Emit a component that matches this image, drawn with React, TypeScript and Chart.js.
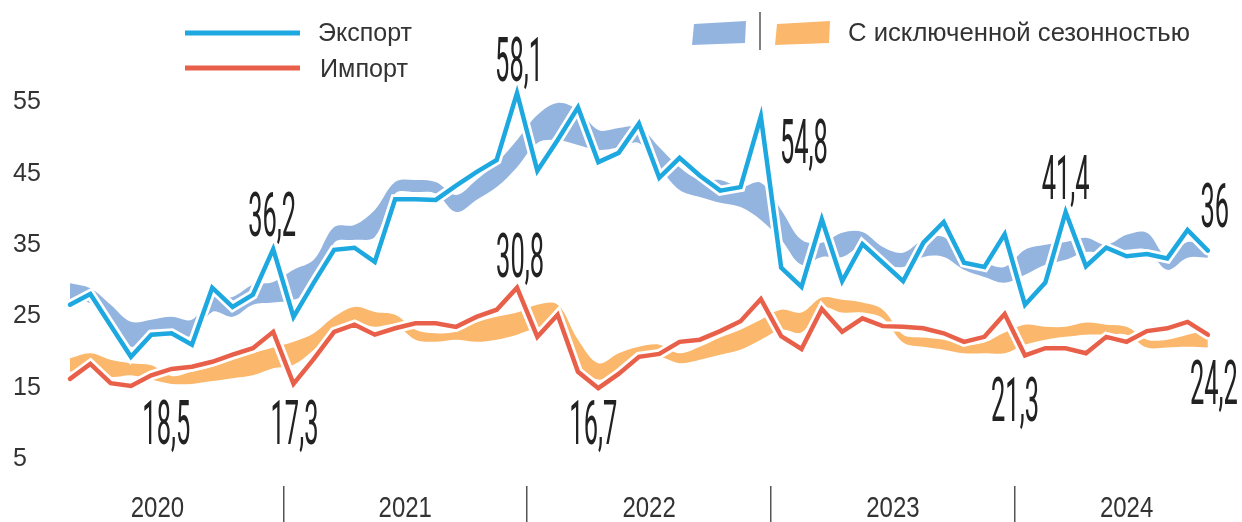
import React, { useEffect, useRef } from 'react';
import { Chart, registerables } from 'chart.js';

Chart.register(...registerables);

// Monthly values, Feb 2020 … Oct 2024 (index 0 = Feb 2020)
const exportValues = [28.4, 29.9, 25.5, 21.1, 24.2, 24.4, 22.8, 30.8, 28.1, 29.8, 36.2, 26.7, 31.5, 36.1, 36.4, 34.4, 43.2, 43.2, 43.1, 45.1, 47.0, 48.7, 58.1, 47.2, 51.5, 56.1, 48.4, 49.7, 53.8, 46.2, 49.0, 46.5, 44.4, 44.9, 54.8, 33.6, 30.9, 40.4, 31.7, 36.9, 34.3, 31.7, 37.1, 40.0, 34.3, 33.7, 38.3, 28.4, 31.5, 41.4, 33.8, 36.4, 35.2, 35.5, 34.9, 38.9, 36.0];
const importValues = [18.0, 20.1, 17.4, 17.0, 18.5, 19.4, 19.7, 20.4, 21.4, 22.3, 24.6, 17.3, 20.8, 24.6, 25.6, 24.2, 25.1, 25.8, 25.8, 25.3, 26.7, 27.7, 30.8, 23.9, 27.0, 19.0, 16.7, 18.7, 21.1, 21.5, 23.2, 23.5, 24.7, 26.1, 29.2, 24.0, 22.2, 27.8, 24.6, 26.5, 25.4, 25.3, 25.1, 24.4, 23.2, 23.9, 27.1, 21.3, 22.3, 22.3, 21.6, 23.9, 23.2, 24.7, 25.1, 26.0, 24.2];
// Seasonally adjusted ribbons (upper / lower edge)
const exportSAHigh = [31.4, 30.7, 28.4, 26.0, 26.3, 26.7, 26.3, 29.4, 29.5, 31.2, 31.6, 33.3, 34.7, 39.3, 39.6, 41.7, 45.6, 45.9, 45.6, 43.8, 45.9, 48.3, 51.5, 55.0, 56.7, 55.7, 52.9, 53.2, 53.3, 50.5, 47.7, 45.9, 45.9, 44.9, 45.5, 41.7, 37.5, 37.1, 38.5, 38.6, 36.5, 35.7, 37.5, 37.9, 35.1, 34.3, 33.7, 36.1, 36.8, 37.2, 37.8, 36.8, 38.2, 38.5, 35.1, 37.2, 36.5];
const exportSALow = [29.1, 28.6, 25.6, 22.5, 24.2, 24.6, 24.0, 27.4, 26.7, 28.4, 28.7, 29.1, 30.5, 37.1, 37.5, 37.9, 44.0, 44.2, 44.0, 41.4, 43.1, 44.9, 47.7, 51.1, 51.5, 50.8, 50.1, 50.5, 51.1, 47.7, 44.5, 43.5, 42.7, 42.1, 40.3, 37.5, 34.0, 35.1, 35.1, 36.5, 34.3, 33.7, 35.1, 35.1, 33.3, 32.3, 31.5, 32.6, 34.0, 34.7, 35.8, 35.7, 36.1, 36.1, 33.3, 35.0, 35.0];
const importSAHigh = [20.9, 21.6, 20.7, 20.2, 19.9, 18.4, 19.0, 19.7, 20.7, 21.6, 22.4, 23.2, 24.4, 26.7, 28.1, 27.4, 27.0, 24.9, 24.4, 24.6, 25.9, 26.7, 27.3, 28.4, 28.4, 23.5, 20.2, 21.6, 22.5, 22.8, 21.6, 22.5, 23.8, 24.9, 26.3, 27.7, 27.3, 29.4, 29.1, 28.7, 27.7, 24.2, 23.8, 23.5, 22.8, 23.1, 24.5, 25.6, 25.3, 25.3, 25.9, 25.6, 25.3, 23.5, 23.5, 24.2, 24.9];
const importSALow = [19.0, 19.5, 18.3, 18.5, 17.9, 17.3, 17.3, 17.7, 18.1, 18.5, 19.5, 20.0, 22.1, 24.9, 25.9, 25.3, 25.6, 23.5, 23.2, 23.5, 23.2, 23.5, 24.2, 25.2, 25.6, 20.0, 17.9, 19.3, 20.7, 21.1, 20.2, 20.7, 21.4, 22.1, 23.5, 24.9, 24.5, 28.0, 27.3, 27.3, 26.5, 23.1, 22.5, 22.1, 21.6, 21.6, 21.6, 22.8, 23.5, 23.9, 24.2, 24.2, 24.2, 22.4, 22.4, 22.5, 22.4];

const yTickValues = [5, 15, 25, 35, 45, 55];
const yearLabels = ['2020', '2021', '2022', '2023', '2024'];
const yearCenters = [4.3, 16.5, 28.5, 40.5, 52.0];
const yearBoundaries = [10.5, 22.5, 34.5, 46.5];

const callouts = [
  { series: 'export', index: 22, text: '58,1', dx: 2, dTop: -56 },
  { series: 'export', index: 10, text: '36,2', dx: -1, dTop: -57 },
  { series: 'export', index: 34, text: '54,8', dx: 43, dTop: 2 },
  { series: 'export', index: 49, text: '41,4', dx: 0, dTop: -57 },
  { series: 'export', index: 56, text: '36', dx: 7, dTop: -68 },
  { series: 'import', index: 22, text: '30,8', dx: 3, dTop: -55 },
  { series: 'import', index: 4, text: '18,5', dx: 15, dTop: 25 },
  { series: 'import', index: 11, text: '17,3', dx: 1, dTop: 16 },
  { series: 'import', index: 26, text: '16,7', dx: -5, dTop: 12 },
  { series: 'import', index: 47, text: '21,3', dx: -10, dTop: 22 },
  { series: 'import', index: 56, text: '24,2', dx: 6, dTop: 25 },
];

const EXPORT_COLOR = '#1ea8e0';
const IMPORT_COLOR = '#e9604a';
const EXPORT_SA_COLOR = '#94b4e0';
const IMPORT_SA_COLOR = '#fbb86d';
const TEXT_COLOR = '#222222';

const pts = (arr: number[]) => arr.map((v, i) => ({ x: i, y: v }));

function scaledText(ctx: CanvasRenderingContext2D, text: string, x: number, baseline: number, font: string, sx: number, align: CanvasTextAlign, color: string) {
  ctx.save();
  ctx.font = font;
  ctx.translate(x, baseline);
  ctx.scale(sx, 1);
  ctx.textAlign = align;
  ctx.textBaseline = 'alphabetic';
  ctx.fillStyle = color;
  ctx.fillText(text, 0, 0);
  ctx.restore();
}

function fittedText(ctx: CanvasRenderingContext2D, text: string, x: number, baseline: number, font: string, width: number, color: string) {
  ctx.save();
  ctx.font = font;
  const w = ctx.measureText(text).width;
  ctx.restore();
  scaledText(ctx, text, x, baseline, font, width / w, 'left', color);
}

const overlayPlugin = {
  id: 'overlay',
  afterDraw(chart: any) {
    const { ctx, scales } = chart;
    const xs = scales.x;
    const ys = scales.y;
    // Year labels
    yearLabels.forEach((lab, i) => {
      const px = xs.getPixelForValue(yearCenters[i]);
      scaledText(ctx, lab, px, 517, '30px "Liberation Sans", Arial, sans-serif', 0.8, 'center', '#333');
    });
    // Callouts
    const DIGIT_FONT = '400 62px Roboto, "Liberation Sans", sans-serif';
    callouts.forEach((c) => {
      const arr = c.series === 'export' ? exportValues : importValues;
      const px = xs.getPixelForValue(c.index);
      const py = ys.getPixelForValue(arr[c.index]);
      const top = py + c.dTop;
      scaledText(ctx, c.text, px + c.dx, top + 44, DIGIT_FONT, 0.41, 'center', TEXT_COLOR);
    });
    // Legend
    ctx.save();
    ctx.lineCap = 'butt';
    ctx.lineWidth = 5;
    ctx.strokeStyle = EXPORT_COLOR;
    ctx.beginPath(); ctx.moveTo(185, 33); ctx.lineTo(300, 33); ctx.stroke();
    ctx.strokeStyle = IMPORT_COLOR;
    ctx.beginPath(); ctx.moveTo(185, 68); ctx.lineTo(300, 68); ctx.stroke();
    ctx.fillStyle = EXPORT_SA_COLOR;
    ctx.beginPath(); ctx.moveTo(694, 24); ctx.lineTo(746, 21); ctx.lineTo(745, 43); ctx.lineTo(692, 45); ctx.closePath(); ctx.fill();
    ctx.fillStyle = IMPORT_SA_COLOR;
    ctx.beginPath(); ctx.moveTo(777, 24); ctx.lineTo(830, 21); ctx.lineTo(829, 43); ctx.lineTo(775, 45); ctx.closePath(); ctx.fill();
    ctx.strokeStyle = '#555';
    ctx.lineWidth = 1.5;
    ctx.beginPath(); ctx.moveTo(760, 12); ctx.lineTo(760, 50); ctx.stroke();
    ctx.restore();
    const LEG_FONT = '26px "Liberation Sans", Arial, sans-serif';
    fittedText(ctx, 'Экспорт', 318, 41, LEG_FONT, 94, '#333');
    fittedText(ctx, 'Импорт', 320, 77, LEG_FONT, 88, '#333');
    fittedText(ctx, 'С исключенной сезонностью', 848, 41, LEG_FONT, 342, '#333');
  },
};

export default function App() {
  const canvasRef = useRef<HTMLCanvasElement | null>(null);

  useEffect(() => {
    const canvas = canvasRef.current;
    if (!canvas) return;
    const chart = new Chart(canvas, {
      type: 'line',
      data: {
        datasets: [
          { label: 'saExpLow', data: pts(exportSALow), borderWidth: 0, pointRadius: 0, fill: false, tension: 0.35, order: 10 },
          { label: 'saExpHigh', data: pts(exportSAHigh), borderWidth: 0, pointRadius: 0, fill: '-1', backgroundColor: EXPORT_SA_COLOR, tension: 0.35, order: 10 },
          { label: 'saImpLow', data: pts(importSALow), borderWidth: 0, pointRadius: 0, fill: false, tension: 0.35, order: 9 },
          { label: 'saImpHigh', data: pts(importSAHigh), borderWidth: 0, pointRadius: 0, fill: '-1', backgroundColor: IMPORT_SA_COLOR, tension: 0.35, order: 9 },
          { label: 'expHalo', data: pts(exportValues), borderColor: '#ffffff', borderWidth: 10, pointRadius: 0, fill: false, tension: 0, borderJoinStyle: 'miter', borderCapStyle: 'round', order: 4 },
          { label: 'Экспорт', data: pts(exportValues), borderColor: EXPORT_COLOR, borderWidth: 4.5, pointRadius: 0, fill: false, tension: 0, borderJoinStyle: 'miter', borderCapStyle: 'round', order: 3 },
          { label: 'impHalo', data: pts(importValues), borderColor: '#ffffff', borderWidth: 10, pointRadius: 0, fill: false, tension: 0, borderJoinStyle: 'miter', borderCapStyle: 'round', order: 2 },
          { label: 'Импорт', data: pts(importValues), borderColor: IMPORT_COLOR, borderWidth: 4.5, pointRadius: 0, fill: false, tension: 0, borderJoinStyle: 'miter', borderCapStyle: 'round', order: 1 },
        ],
      },
      options: {
        responsive: false,
        maintainAspectRatio: false,
        animation: false,
        devicePixelRatio: 1,
        layout: { padding: { left: 13, right: 0, top: 0, bottom: 0 }, autoPadding: false },
        plugins: { legend: { display: false }, tooltip: { enabled: false } },
        scales: {
          x: {
            type: 'linear',
            min: -1.083,
            max: 57.68,
            position: 'bottom',
            border: { display: false },
            grid: { display: true, drawOnChartArea: false, drawTicks: true, tickLength: 36, color: '#555', lineWidth: 1.5 },
            ticks: { display: false },
            afterBuildTicks: (scale: any) => { scale.ticks = yearBoundaries.map((v) => ({ value: v })); },
            afterFit: (scale: any) => { scale.height = 36; scale.paddingLeft = 0; scale.paddingRight = 0; },
          },
          y: {
            type: 'linear',
            min: 2.98,
            max: 71.14,
            position: 'left',
            border: { display: false },
            grid: { display: false },
            ticks: {
              color: '#333',
              font: { family: '"Liberation Sans", Arial, sans-serif', size: 25 },
              crossAlign: 'far',
              labelOffset: -12.5,
              padding: 0,
            },
            afterBuildTicks: (scale: any) => { scale.ticks = yTickValues.map((v) => ({ value: v })); },
            afterFit: (scale: any) => { scale.width = 35; scale.paddingTop = 0; scale.paddingBottom = 0; },
          },
        },
      },
      plugins: [overlayPlugin],
    } as any);
    return () => chart.destroy();
  }, []);

  return (
    <div style={{ position: 'fixed', left: 0, top: 0, width: 1242, height: 522, background: '#fff' }}>
      <canvas ref={canvasRef} width={1242} height={522} />
    </div>
  );
}
